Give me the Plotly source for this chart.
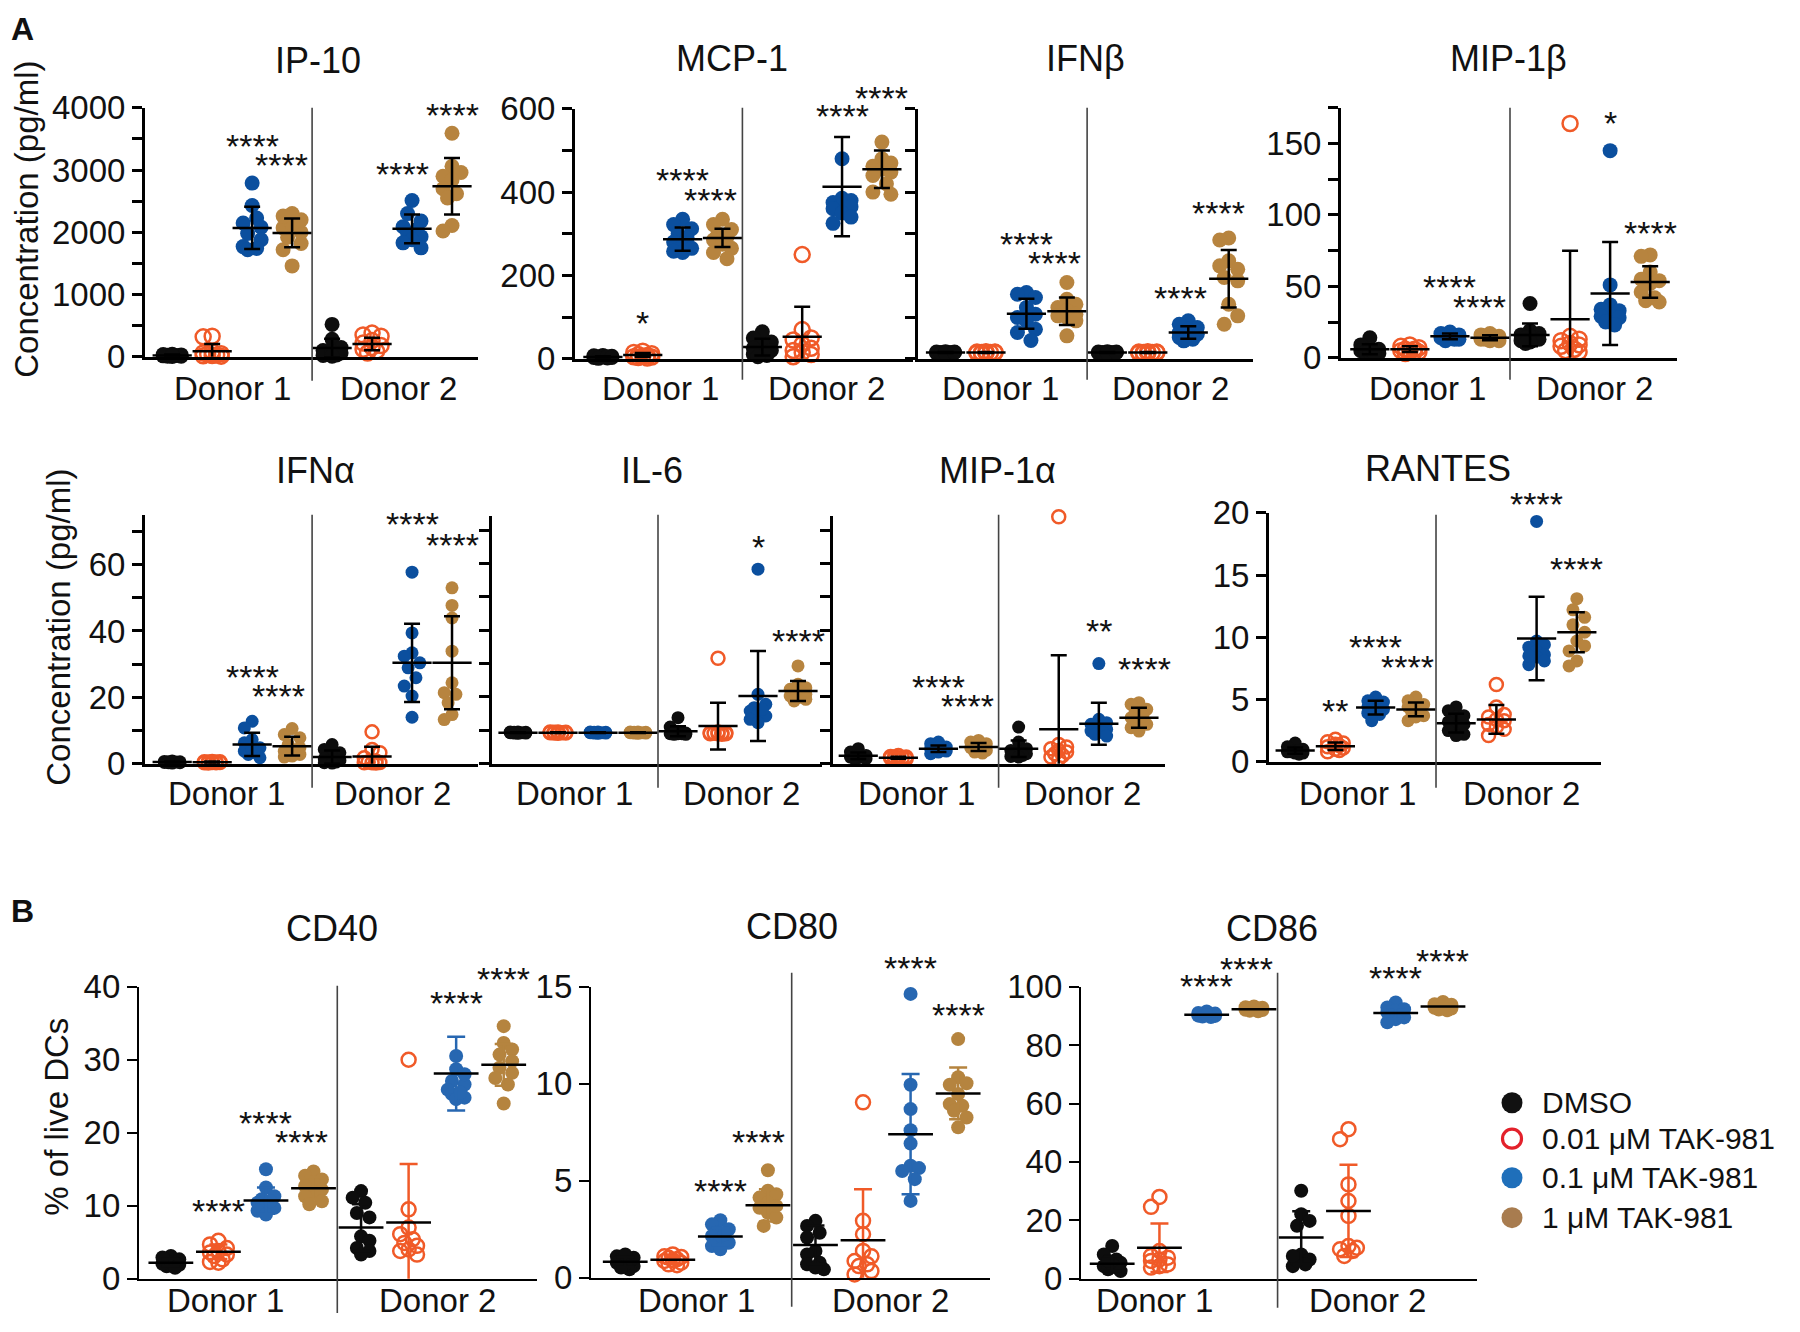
import numpy as np
import plotly.graph_objects as go

W, H = 1800, 1332
FONT = "Liberation Sans, Arial, Helvetica, sans-serif"

# ---------------- data (8 groups: Donor1 DMSO/0.01/0.1/1 uM, Donor2 same) ----------------
GROUP_NAMES = ["DMSO", "0.01 μM TAK-981", "0.1 μM TAK-981", "1 μM TAK-981"]
DONORS = ["Donor 1", "Donor 2"]

ip10 = [
    [20, 10, 30, 5, 40, 15, 25, 10, 35, 20],
    [330, 320, 80, 40, 20, 10, 60, 30, 15, 50],
    [2790, 2430, 2230, 2150, 2080, 1980, 1880, 1770, 1740, 1720],
    [1460, 1720, 1820, 1920, 2000, 2070, 2130, 2200, 2260, 2300],
    [520, 280, 150, 100, 60, 40, 20, 80, 30, 10],
    [380, 350, 330, 260, 220, 180, 150, 120, 90, 60],
    [2510, 2300, 2180, 2090, 2040, 1990, 1930, 1880, 1830, 1750],
    [3590, 3060, 2960, 2900, 2840, 2700, 2620, 2550, 2110, 2020],
]
ip10_mean = [20, 90, 2070, 1990, 140, 205, 2055, 2740]
ip10_sd = [15, 115, 340, 230, 150, 100, 230, 455]

mcp1 = [
    [5, 3, 8, 2, 6, 4, 7, 1, 5, 3],
    [18, 15, 12, 10, 8, 6, 5, 4, 3, 2],
    [335, 322, 312, 300, 290, 280, 272, 265, 258, 255],
    [335, 322, 310, 300, 292, 285, 275, 265, 255, 240],
    [65, 50, 40, 35, 25, 20, 15, 10, 8, 5],
    [250, 70, 50, 45, 35, 25, 20, 15, 10, 5],
    [480, 385, 380, 375, 370, 365, 360, 350, 340, 325],
    [520, 480, 470, 462, 455, 448, 440, 420, 400, 395],
]
mcp1_mean = [4, 9, 287, 290, 28, 53, 413, 455]
mcp1_sd = [2, 5, 28, 22, 20, 72, 119, 45]

ifnb = [
    [15, 14, 16, 15, 13, 17, 15, 14, 16, 15],
    [15, 14, 16, 15, 13, 17, 15, 14, 16, 15],
    [159, 155, 147, 123, 107, 99, 91, 71, 63, 44],
    [183, 143, 131, 123, 115, 107, 103, 99, 91, 55],
    [15, 14, 16, 15, 13, 17, 15, 14, 16, 15],
    [15, 14, 16, 15, 13, 17, 15, 14, 16, 15],
    [91, 83, 75, 71, 63, 59, 55, 51, 47, 43],
    [290, 285, 235, 223, 215, 195, 187, 131, 103, 83],
]
ifnb_mean = [15, 15, 108, 114, 15, 15, 63, 192]
ifnb_sd = [1, 1, 36, 33, 1, 1, 15, 69]

mip1b = [
    [14, 9, 6, 5, 4, 4, 3, 5, 6, 3],
    [9, 8, 7, 6, 6, 5, 5, 4, 4, 3],
    [18, 17, 16, 15, 15, 14, 14, 13, 13, 12],
    [17, 16, 15, 15, 14, 14, 13, 13, 12, 12],
    [38, 19, 17, 16, 15, 14, 13, 12, 11, 10],
    [164, 15, 13, 12, 10, 9, 8, 6, 5, 4],
    [145, 51, 37, 34, 33, 30, 29, 28, 25, 23],
    [72, 71, 60, 55, 54, 52, 46, 42, 40, 39],
]
mip1b_mean = [6, 6, 15, 14, 16, 27, 45, 53]
mip1b_sd = [3.5, 2, 2, 1.8, 8, 48, 36, 11]

ifna = [
    [0.8, 0.5, 0.3, 0.6, 0.4, 0.7, 0.2, 0.5, 0.3, 0.6],
    [0.6, 0.4, 0.5, 0.3, 0.7, 0.2, 0.5, 0.4, 0.6, 0.3],
    [12.8, 10.8, 7.3, 6.3, 4.8, 3.8, 2.8, 1.8, 4.3, 3.3],
    [10.6, 8.8, 7.8, 5.8, 4.8, 3.8, 2.8, 2.3, 4.3, 2.0],
    [5.8, 4.3, 3.3, 2.0, 1.5, 1.0, 0.8, 0.5, 0.3, 0.2],
    [9.6, 4.3, 3.3, 1.8, 0.8, 0.5, 0.4, 0.3, 0.3, 0.2],
    [57.7, 39.4, 33.4, 32.4, 30.4, 28.9, 25.9, 23.4, 20.4, 14.0],
    [53.0, 47.7, 43.9, 33.9, 24.4, 21.4, 18.4, 13.3, 14.8, 20.9],
]
ifna_mean = [0.5, 0.45, 5.8, 5.3, 2.0, 2.2, 30.4, 30.4]
ifna_sd = [0.2, 0.2, 3.5, 2.8, 2.0, 2.9, 11.8, 14.0]

il6 = [
    [0.95, 0.93, 0.92, 0.94, 0.93, 0.91, 0.95, 0.92, 0.94, 0.93],
    [0.94, 0.92, 0.93, 0.95, 0.91, 0.93, 0.94, 0.92, 0.93, 0.95],
    [0.93, 0.95, 0.92, 0.94, 0.91, 0.93, 0.95, 0.92, 0.94, 0.93],
    [0.92, 0.94, 0.93, 0.95, 0.91, 0.93, 0.94, 0.92, 0.95, 0.93],
    [1.38, 1.10, 0.95, 0.90, 0.88, 0.92, 0.90, 0.93, 0.90, 0.88],
    [3.16, 0.95, 0.93, 0.90, 0.92, 0.88, 0.90, 0.93, 0.91, 0.90],
    [5.83, 2.08, 1.78, 1.68, 1.58, 1.53, 1.43, 1.33, 1.23, 1.63],
    [2.93, 2.38, 2.28, 2.18, 2.08, 2.03, 1.98, 1.93, 2.23, 1.88],
]
il6_mean = [0.93, 0.93, 0.93, 0.93, 0.97, 1.13, 2.03, 2.18]
il6_sd = [0.01, 0.01, 0.01, 0.01, 0.15, 0.70, 1.35, 0.30]

mip1a = [
    [0.45, 0.35, 0.25, 0.2, 0.18, 0.15, 0.2, 0.25, 0.15, 0.2],
    [0.25, 0.22, 0.2, 0.18, 0.17, 0.15, 0.2, 0.18, 0.16, 0.14],
    [0.65, 0.6, 0.5, 0.45, 0.4, 0.38, 0.35, 0.3, 0.42, 0.48],
    [0.7, 0.65, 0.55, 0.5, 0.45, 0.4, 0.35, 0.32, 0.48, 0.6],
    [1.1, 0.65, 0.45, 0.4, 0.35, 0.3, 0.28, 0.25, 0.22, 0.2],
    [7.4, 0.58, 0.5, 0.45, 0.4, 0.35, 0.3, 0.25, 0.2, 0.15],
    [3.0, 1.33, 1.18, 1.08, 0.98, 0.88, 1.03, 1.23, 0.93, 0.83],
    [1.83, 1.78, 1.63, 1.53, 1.38, 1.28, 1.18, 1.08, 0.98, 1.43],
]
mip1a_mean = [0.24, 0.18, 0.45, 0.5, 0.45, 1.03, 1.2, 1.38]
mip1a_sd = [0.1, 0.03, 0.1, 0.12, 0.25, 2.22, 0.63, 0.3]

rantes = [
    [1.5, 1.2, 1.0, 0.9, 0.8, 0.8, 0.7, 0.7, 0.6, 0.9],
    [1.8, 1.6, 1.5, 1.4, 1.3, 1.2, 1.1, 1.0, 0.9, 0.8],
    [5.2, 4.9, 4.6, 4.4, 4.1, 3.8, 3.3, 4.8, 4.2, 3.9],
    [5.2, 4.9, 4.5, 4.2, 3.9, 3.7, 3.3, 4.6, 4.4, 3.6],
    [4.4, 4.1, 3.6, 3.2, 2.8, 2.5, 2.2, 2.1, 3.0, 3.7],
    [6.2, 4.4, 3.8, 3.6, 3.3, 3.0, 2.8, 2.6, 2.1, 3.4],
    [19.3, 9.7, 9.4, 9.2, 8.9, 8.6, 8.4, 8.1, 7.8, 8.5],
    [13.1, 12.2, 11.6, 11.0, 10.4, 9.7, 9.3, 8.9, 8.1, 7.7],
]
rantes_mean = [0.9, 1.25, 4.35, 4.2, 3.1, 3.4, 9.9, 10.4]
rantes_sd = [0.25, 0.3, 0.55, 0.55, 0.75, 1.15, 3.35, 1.6]

cd40 = [
    [3.1, 2.65, 2.2, 2.0, 1.7, 2.4, 2.05, 1.9, 1.5, 2.9],
    [5.2, 4.7, 4.2, 3.8, 3.6, 3.3, 3.1, 2.65, 2.3, 2.2],
    [15.0, 12.5, 11.3, 10.9, 10.4, 10.0, 9.7, 9.3, 8.8, 10.6],
    [14.7, 14.1, 13.6, 13.2, 12.7, 12.2, 11.8, 11.3, 10.6, 10.2],
    [12.0, 11.1, 10.4, 9.0, 8.4, 5.8, 5.2, 4.2, 3.8, 3.3],
    [30.0, 9.5, 7.0, 6.1, 5.4, 4.9, 4.5, 4.0, 3.8, 3.3],
    [30.5, 28.7, 27.1, 26.6, 25.9, 25.3, 24.8, 24.6, 25.5, 28.0],
    [34.6, 32.3, 31.4, 30.7, 29.8, 28.9, 28.2, 27.5, 26.6, 24.0],
]
cd40_mean = [2.2, 3.7, 10.7, 12.4, 7.0, 7.7, 28.1, 29.3]
cd40_sd = [0.5, 1.0, 1.8, 1.5, 3.2, 8.0, 5.05, 2.85]

cd80 = [
    [1.1, 0.95, 0.77, 0.6, 0.43, 0.86, 1.03, 0.69, 1.2, 0.52],
    [1.2, 1.1, 0.95, 0.86, 0.77, 0.69, 1.03, 0.9, 1.07, 0.64],
    [2.96, 2.75, 2.5, 2.32, 2.15, 1.98, 1.8, 1.63, 1.46, 2.24],
    [5.54, 4.48, 4.3, 4.13, 3.87, 3.6, 3.35, 3.1, 2.67, 3.7],
    [2.93, 2.67, 2.32, 2.07, 1.38, 1.2, 0.77, 0.69, 0.43, 0.52],
    [9.04, 2.93, 2.24, 1.38, 1.1, 0.86, 0.69, 0.6, 0.34, 0.17],
    [14.63, 9.95, 8.69, 7.6, 6.92, 5.77, 5.65, 5.08, 5.5, 3.96],
    [12.3, 10.33, 10.02, 9.95, 9.47, 8.95, 8.86, 8.6, 8.26, 7.75],
]
cd80_mean = [0.82, 0.92, 2.12, 3.73, 1.69, 1.93, 7.4, 9.5]
cd80_sd = [0.25, 0.2, 0.45, 0.83, 1.0, 2.63, 3.1, 1.33]

cd86 = [
    [11.2, 8.3, 6.6, 5.5, 4.3, 3.2, 3.8, 4.9, 6.1, 2.6],
    [28.0, 24.6, 9.5, 7.8, 6.6, 6.1, 4.9, 4.3, 7.2, 3.8],
    [91.5, 91.0, 90.8, 90.5, 90.3, 90.1, 90.0, 89.8, 89.6, 90.2],
    [93.2, 93.0, 92.8, 92.5, 92.3, 92.0, 91.8, 91.6, 92.6, 92.1],
    [30.1, 22.1, 18.1, 8.3, 6.6, 4.9, 4.3, 6.1, 7.8, 19.8],
    [51.2, 47.8, 32.3, 26.6, 21.5, 11.2, 10.6, 10.1, 9.5, 7.8],
    [94.6, 92.9, 91.2, 90.1, 88.9, 87.8, 91.8, 90.6, 89.5, 92.3],
    [94.8, 94.0, 93.5, 93.2, 92.8, 92.5, 92.2, 91.9, 93.0, 93.8],
]
cd86_mean = [5.1, 10.6, 90.4, 92.3, 14.1, 23.2, 91.0, 93.2]
cd86_sd = [2.5, 8.3, 0.6, 0.5, 9.0, 15.8, 2.0, 0.9]

# significance labels: (group index, label height in data units, text, horizontal nudge)
ip10_stars = [(2, 3470, "****", 0), (3, 3164, "****", -0.27), (6, 3019, "****", -0.25), (7, 3968, "****", 0)]
mcp1_stars = [(1, 98, "*", 0), (2, 441, "****", 0), (3, 394, "****", -0.3), (6, 594, "****", 0), (7, 638, "****", 0)]
ifnb_stars = [(2, 287, "****", 0), (3, 241, "****", -0.3), (6, 159, "****", -0.2), (7, 363, "****", -0.25)]
mip1b_stars = [(2, 53, "****", 0), (3, 39, "****", -0.27), (6, 168, "*", 0), (7, 91, "****", 0)]
ifna_stars = [(2, 27.6, "****", 0), (3, 21.9, "****", -0.35), (6, 73.7, "****", 0), (7, 67.5, "****", 0)]
il6_stars = [(6, 6.63, "*", 0), (7, 3.83, "****", 0)]
mip1a_stars = [(2, 2.46, "****", 0), (3, 1.88, "****", -0.27), (6, 4.13, "**", 0), (7, 2.98, "****", 0.15)]
rantes_stars = [(1, 4.5, "**", 0), (2, 9.6, "****", 0), (3, 8.05, "****", -0.22), (6, 21.1, "****", 0), (7, 15.9, "****", 0)]
cd40_stars = [(1, 10.0, "****", 0), (2, 22.0, "****", 0), (3, 19.4, "****", -0.25), (6, 38.5, "****", 0), (7, 41.7, "****", 0)]
cd80_stars = [(2, 4.73, "****", 0), (3, 7.26, "****", -0.2), (6, 16.2, "****", 0), (7, 13.8, "****", 0)]
cd86_stars = [(2, 102, "****", 0), (3, 107.8, "****", -0.15), (6, 104.6, "****", 0), (7, 110.6, "****", 0)]

# ---------------- layout of the panels (target pixel geometry) ----------------
PANELS = [
    dict(title="IP-10", vals=ip10, mean=ip10_mean, sd=ip10_sd, stars=ip10_stars, row="A",
         px=(145, 478), py=(107, 356), ytop=4000, xr=(-0.68, 7.65), dtick=1000, minor=500, labels=True,
         tpos=(318, 60), sep=(107, 380), dx=(1.5, 5.65), dy=388),
    dict(title="MCP-1", vals=mcp1, mean=mcp1_mean, sd=mcp1_sd, stars=mcp1_stars, row="A",
         px=(575, 913), py=(108, 358), ytop=600, xr=(-0.7, 7.78), dtick=200, minor=100, labels=True,
         tpos=(732, 58), sep=(107, 379), dx=(1.45, 5.6), dy=388),
    dict(title="IFNβ", vals=ifnb, mean=ifnb_mean, sd=ifnb_sd, stars=ifnb_stars, row="A",
         px=(918, 1253), py=(108, 358), ytop=600, xr=(-0.68, 7.6), dtick=100, minor=None, labels=False,
         tpos=(1085, 58), sep=(107, 379), dx=(1.37, 5.55), dy=388),
    dict(title="MIP-1β", vals=mip1b, mean=mip1b_mean, sd=mip1b_sd, stars=mip1b_stars, row="A",
         px=(1341, 1677), py=(107, 357), ytop=175, xr=(-0.72, 7.67), dtick=50, minor=25, labels=True,
         tpos=(1508, 58), sep=(107, 379), dx=(1.43, 5.6), dy=388),
    dict(title="IFNα", vals=ifna, mean=ifna_mean, sd=ifna_sd, stars=ifna_stars, row="A2",
         px=(145, 478), py=(514, 763), ytop=75, xr=(-0.68, 7.65), dtick=20, minor=10, labels=True,
         tpos=(315, 470), sep=(514, 787), dx=(1.35, 5.5), dy=793),
    dict(title="IL-6", vals=il6, mean=il6_mean, sd=il6_sd, stars=il6_stars, row="A2",
         px=(492, 822), py=(515, 763), ytop=7.43, xr=(-0.65, 7.6), dtick=1, minor=None, labels=False,
         tpos=(652, 470), sep=(514, 787), dx=(1.4, 5.58), dy=793),
    dict(title="MIP-1α", vals=mip1a, mean=mip1a_mean, sd=mip1a_sd, stars=mip1a_stars, row="A2",
         px=(833, 1165), py=(515, 763), ytop=7.43, xr=(-0.63, 7.65), dtick=1, minor=None, labels=False,
         tpos=(998, 470), sep=(514, 787), dx=(1.45, 5.6), dy=793),
    dict(title="RANTES", vals=rantes, mean=rantes_mean, sd=rantes_sd, stars=rantes_stars, row="A2",
         px=(1269, 1601), py=(512, 761), ytop=20, xr=(-0.65, 7.6), dtick=5, minor=None, labels=True,
         tpos=(1438, 468), sep=(514, 787), dx=(1.54, 5.63), dy=793),
    dict(title="CD40", vals=cd40, mean=cd40_mean, sd=cd40_sd, stars=cd40_stars, row="B",
         px=(139, 537), py=(986, 1278), ytop=40, xr=(-0.67, 7.7), dtick=10, minor=None, labels=True,
         tpos=(332, 928), sep=(985, 1318), dx=(1.14, 5.6), dy=1310),
    dict(title="CD80", vals=cd80, mean=cd80_mean, sd=cd80_sd, stars=cd80_stars, row="B",
         px=(591, 990), py=(986, 1277), ytop=15, xr=(-0.72, 7.67), dtick=5, minor=None, labels=True,
         tpos=(792, 926), sep=(972, 1306), dx=(1.5, 5.57), dy=1310),
    dict(title="CD86", vals=cd86, mean=cd86_mean, sd=cd86_sd, stars=cd86_stars, row="B",
         px=(1081, 1477), py=(986, 1278), ytop=100, xr=(-0.66, 7.72), dtick=20, minor=None, labels=True,
         tpos=(1272, 928), sep=(972, 1307), dx=(0.89, 5.4), dy=1310),
]

COL_A = ["#0d0d0d", "#f05a28", "#0b4f9e", "#b7843f"]
COL_B = ["#0d0d0d", "#f05a28", "#2767b1", "#b5843f"]
STYLE = {
    "A": dict(cols=COL_A, msize=15, lw=3, mw=28, cap=8, ebcol=None),
    "A2": dict(cols=COL_A, msize=13, lw=3, mw=28, cap=8, ebcol=None),
    "B": dict(cols=COL_B, msize=14, lw=2.2, mw=32, cap=9, ebcol="group"),
}

# the captured picture maps page rows as: picture_y = V_OFF + V_SCALE * page_y
V_OFF, V_SCALE = 17.2, 0.9723


def ty(p):
    """target picture row -> page row"""
    return (p - V_OFF) / V_SCALE


def fx(p):
    return p / W


def fy(p):
    return 1 - p / H


def swarm(vals, d, sx, sy):
    """Simple beeswarm: horizontal offsets (in axis units) so markers do not pile up."""
    vals = np.asarray(vals, float)
    order = np.argsort(-vals, kind="stable")
    offs = np.zeros(len(vals))
    placed = []
    base = np.array([0, 0.3, -0.3, 0.6, -0.6]) * d
    for k, i in enumerate(order):
        yp = vals[i] * sy
        cands = base if k % 2 == 0 else -base
        best, bestd = 0.0, -1.0
        chosen = None
        for c in cands:
            md = min((np.hypot(c - a, yp - b) for a, b in placed), default=1e9)
            if md >= 0.9 * d:
                chosen = c
                break
            if md > bestd:
                best, bestd = c, md
        if chosen is None:
            chosen = best
        placed.append((chosen, yp))
        offs[i] = chosen / sx
    return offs


fig = go.Figure()
layout = dict(
    width=W, height=H, autosize=False, margin=dict(l=0, r=0, t=0, b=0, pad=0),
    paper_bgcolor="white", plot_bgcolor="rgba(0,0,0,0)",
    font=dict(family=FONT, color="#111", size=30),
    showlegend=False,
)
annotations = []
shapes = []

for n, P in enumerate(PANELS, start=1):
    xa = "x" if n == 1 else f"x{n}"
    ya = "y" if n == 1 else f"y{n}"
    xk = "xaxis" if n == 1 else f"xaxis{n}"
    yk = "yaxis" if n == 1 else f"yaxis{n}"
    st = STYLE[P["row"]]
    x0, x1 = P["px"]
    yt, yb = ty(P["py"][0]), ty(P["py"][1])
    xr0, xr1 = P["xr"]
    sx = (x1 - x0) / (xr1 - xr0)
    sy = (yb - yt) / P["ytop"]

    layout[xk] = dict(domain=[fx(x0), fx(x1)], range=[xr0, xr1], anchor=ya,
                      showline=True, linecolor="black", linewidth=st["lw"],
                      ticks="", showticklabels=False, showgrid=False, zeroline=False, fixedrange=True)
    yax = dict(domain=[fy(yb), fy(yt)], range=[0, P["ytop"]], anchor=xa,
               showline=True, linecolor="black", linewidth=st["lw"],
               ticks="outside", ticklen=10, tickwidth=st["lw"], tickcolor="black",
               tickmode="linear", tick0=0, dtick=P["dtick"], showticklabels=P["labels"],
               tickfont=dict(size=33, color="#111", family=FONT),
               showgrid=False, zeroline=False, fixedrange=True)
    if P["minor"]:
        yax["minor"] = dict(dtick=P["minor"], tick0=0, ticks="outside", ticklen=10,
                            tickwidth=st["lw"], tickcolor="black", showgrid=False)
    layout[yk] = yax

    # individual points
    for g in range(8):
        t = g % 4
        col = st["cols"][t]
        xs = g + swarm(P["vals"][g], st["msize"], sx, sy)
        if t == 1:
            marker = dict(size=st["msize"], symbol="circle-open", color=col, line=dict(width=2.5, color=col))
        else:
            marker = dict(size=st["msize"], symbol="circle", color=col, line=dict(width=0))
        fig.add_trace(go.Scatter(x=xs, y=P["vals"][g], mode="markers", marker=marker,
                                 xaxis=xa, yaxis=ya, cliponaxis=False, hoverinfo="skip"))
    # mean line + SD bars
    for g in range(8):
        t = g % 4
        ec = st["cols"][t] if st["ebcol"] == "group" else "black"
        fig.add_trace(go.Scatter(
            x=[g], y=[P["mean"][g]], mode="markers",
            marker=dict(symbol="line-ew", size=st["mw"], color="black", line=dict(width=2.5, color="black")),
            error_y=dict(type="data", array=[P["sd"][g]], color=ec, thickness=2.5, width=st["cap"]),
            xaxis=xa, yaxis=ya, cliponaxis=True, hoverinfo="skip"))

    # separator between donors
    shapes.append(dict(type="line", xref=xa, yref="paper", x0=3.5, x1=3.5,
                       y0=max(fy(ty(P["sep"][1])), 0), y1=fy(ty(P["sep"][0])),
                       line=dict(color="#444", width=1.6)))
    # panel title
    annotations.append(dict(text=P["title"], xref="paper", yref="paper", x=fx(P["tpos"][0]),
                            y=fy(ty(P["tpos"][1])), xanchor="center", yanchor="middle", showarrow=False,
                            font=dict(size=36, color="#111", family=FONT)))
    # donor labels
    dyp = min(ty(P["dy"]), 1319)
    for dname, dxp in zip(DONORS, P["dx"]):
        annotations.append(dict(text=dname, xref=xa, yref="paper", x=dxp, y=fy(dyp),
                                xanchor="center", yanchor="middle", showarrow=False,
                                font=dict(size=33, color="#111", family=FONT)))
    # significance stars
    for g, yv, txt, nud in P["stars"]:
        annotations.append(dict(text=txt, xref=xa, yref="paper", x=g + nud, y=fy(yb - yv * sy),
                                xanchor="center", yanchor="middle", showarrow=False, yshift=-5,
                                font=dict(size=34, color="#111", family=FONT)))

# axis titles
for txt, xp, yp in [("Concentration (pg/ml)", 27, 219), ("Concentration (pg/ml)", 59, 627),
                    ("% of live DCs", 57, 1116)]:
    annotations.append(dict(text=txt, xref="paper", yref="paper", x=fx(xp), y=fy(ty(yp)), textangle=-90,
                            xanchor="center", yanchor="middle", showarrow=False,
                            font=dict(size=33, color="#111", family=FONT)))
# panel letters
for txt, xp, yp in [("A", 22, 21), ("B", 22, 910)]:
    annotations.append(dict(text=f"<b>{txt}</b>", xref="paper", yref="paper", x=fx(xp), y=fy(max(ty(yp), 11)),
                            xanchor="center", yanchor="middle", showarrow=False,
                            font=dict(size=32, color="#111", family=FONT)))

# legend (overlay pixel axis)
LEG_Y = [1102, 1138, 1177, 1217]
LEG_COL = ["#111111", "#e3212b", "#1f6fba", "#a87c4f"]
layout["xaxis12"] = dict(domain=[0, 1], range=[0, W], visible=False, anchor="y12", fixedrange=True)
layout["yaxis12"] = dict(domain=[0, 1], range=[H, 0], visible=False, anchor="x12", fixedrange=True)
for i, (name, col, yy) in enumerate(zip(GROUP_NAMES, LEG_COL, LEG_Y)):
    if i == 1:
        mk = dict(size=19, symbol="circle-open", color=col, line=dict(width=3.2, color=col))
    else:
        mk = dict(size=21, symbol="circle", color=col, line=dict(width=0))
    fig.add_trace(go.Scatter(x=[1512], y=[ty(yy)], mode="markers", marker=mk, xaxis="x12", yaxis="y12",
                             cliponaxis=False, hoverinfo="skip"))
    annotations.append(dict(text=name, xref="paper", yref="paper", x=fx(1540), y=fy(ty(yy)),
                            xanchor="left", yanchor="middle", showarrow=False,
                            font=dict(size=30, color="#111", family=FONT)))

layout["annotations"] = annotations
layout["shapes"] = shapes
fig.update_layout(**layout)

PAGE_FIX = """
(function(){
  var gd = document.getElementById('{plot_id}');
  if (!gd) return;
  document.documentElement.style.cssText = 'margin:0;padding:0;overflow:hidden;';
  document.body.style.cssText = 'margin:0;padding:0;overflow:hidden;';
  gd.style.margin = '0';
})();
"""
fig.write_html("out.html", config={"responsive": False, "displayModeBar": False},
               default_width="1800px", default_height="1332px", post_script=PAGE_FIX)
